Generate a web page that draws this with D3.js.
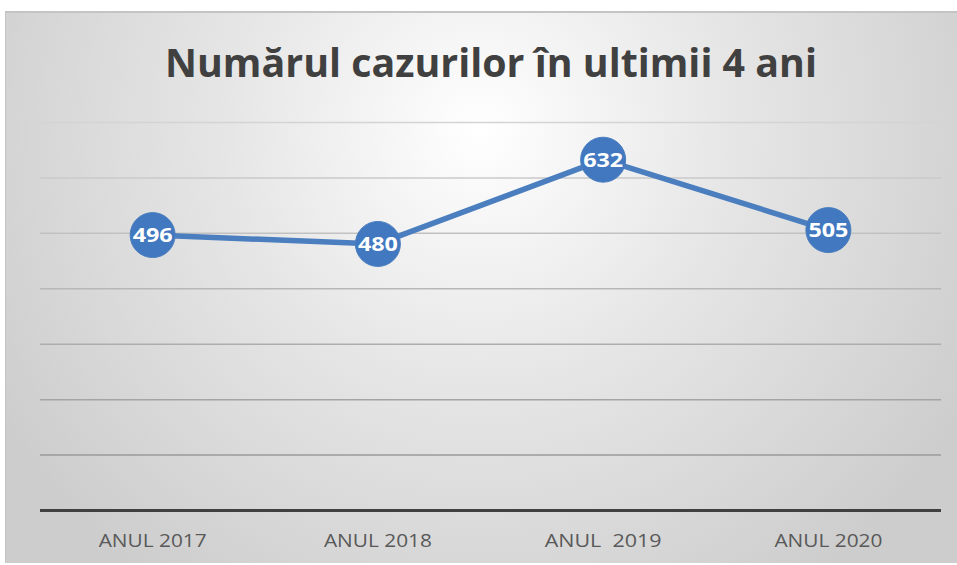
<!DOCTYPE html>
<html>
<head>
<meta charset="utf-8">
<script src="https://cdn.jsdelivr.net/npm/d3@7"></script>
<style>
    html, body { margin: 0; padding: 0; background: #fff; }
    svg { display: block; }
    text { white-space: pre; }
</style>
</head>
<body>
<div id="chart"></div>
<script>
const config = {
    width: 957,
    height: 565,
    marginTop: 122,
    marginRight: 16,
    marginBottom: 55,
    marginLeft: 40
};

const categories = ['ANUL 2017', 'ANUL 2018', 'ANUL  2019', 'ANUL 2020'];
const values = [496, 480, 632, 505];
const gridTicks = [0, 100, 200, 300, 400, 500, 600, 700];
const title = 'Numărul cazurilor în ultimii 4 ani';

const svg = d3.select('#chart')
    .append('svg')
    .attr('width', config.width)
    .attr('height', config.height);

const defs = svg.append('defs');
const bg = defs.append('radialGradient')
    .attr('id', 'bg')
    .attr('gradientUnits', 'userSpaceOnUse')
    .attr('cx', 480).attr('cy', 130)
    .attr('r', 560);
bg.append('stop').attr('offset', '0%').attr('stop-color', '#ffffff');
bg.append('stop').attr('offset', '45%').attr('stop-color', '#e6e6e6');
bg.append('stop').attr('offset', '100%').attr('stop-color', '#cdcdcd');

// chart area background with top shadow
svg.append('rect')
    .attr('x', 5).attr('y', 11)
    .attr('width', config.width - 5).attr('height', config.height - 13)
    .attr('fill', '#c4c4c4');
svg.append('rect')
    .attr('x', 6).attr('y', 13)
    .attr('width', config.width - 6).attr('height', config.height - 15)
    .attr('fill', 'url(#bg)');

const xScale = d3.scaleBand()
    .domain(categories)
    .range([config.marginLeft, config.width - config.marginRight]);

const yScale = d3.scaleLinear()
    .domain([0, 700])
    .range([config.height - config.marginBottom, config.marginTop]);

const gridColor = d3.scaleLinear()
    .domain([700, 100])
    .range(['#d4d4d4', '#9a9a9a']);

svg.append('g')
    .selectAll('line')
    .data(gridTicks.filter(d => d > 0))
    .join('line')
    .attr('x1', config.marginLeft)
    .attr('x2', config.width - config.marginRight)
    .attr('y1', d => yScale(d) + 0.5)
    .attr('y2', d => yScale(d) + 0.5)
    .attr('stroke', d => gridColor(d))
    .attr('stroke-width', 1.5);

// baseline
svg.append('line')
    .attr('x1', config.marginLeft)
    .attr('x2', config.width - config.marginRight)
    .attr('y1', yScale(0) + 0.5)
    .attr('y2', yScale(0) + 0.5)
    .attr('stroke', '#404040')
    .attr('stroke-width', 3);

svg.append('text')
    .attr('x', 491)
    .attr('y', 77)
    .attr('text-anchor', 'middle')
    .attr('font-family', 'Open Sans, sans-serif')
    .attr('font-weight', 'bold')
    .attr('font-size', '40px')
    .attr('fill', '#404040')
    .attr('textLength', 652)
    .attr('lengthAdjust', 'spacingAndGlyphs')
    .text(title);

svg.append('g')
    .selectAll('text')
    .data(categories)
    .join('text')
    .attr('x', d => xScale(d) + xScale.bandwidth() / 2)
    .attr('y', 547)
    .attr('text-anchor', 'middle')
    .attr('font-family', 'Open Sans, sans-serif')
    .attr('font-size', '19px')
    .attr('fill', '#595959')
    .attr('textLength', d => d.includes('  ') ? 117 : 108)
    .attr('lengthAdjust', 'spacingAndGlyphs')
    .text(d => d);

const points = categories.map((c, i) => ({ cat: c, value: values[i] }));

const line = d3.line()
    .x(d => xScale(d.cat) + xScale.bandwidth() / 2)
    .y(d => yScale(d.value));

svg.append('path')
    .datum(points)
    .attr('fill', 'none')
    .attr('stroke', '#4a7ebf')
    .attr('stroke-width', 5.5)
    .attr('stroke-linejoin', 'round')
    .attr('d', line);

const marks = svg.append('g')
    .selectAll('g')
    .data(points)
    .join('g')
    .attr('transform', d => `translate(${xScale(d.cat) + xScale.bandwidth() / 2},${yScale(d.value)})`);

marks.append('circle')
    .attr('r', 22.5)
    .attr('fill', '#4178c0')
    .attr('stroke', '#4a7ebf')
    .attr('stroke-width', 1);

marks.append('text')
    .attr('text-anchor', 'middle')
    .attr('dy', '0.36em')
    .attr('font-family', 'Open Sans, sans-serif')
    .attr('font-weight', 'bold')
    .attr('font-size', '19px')
    .attr('fill', '#ffffff')
    .attr('textLength', 40)
    .attr('lengthAdjust', 'spacingAndGlyphs')
    .text(d => d.value);
</script>
</body>
</html>
